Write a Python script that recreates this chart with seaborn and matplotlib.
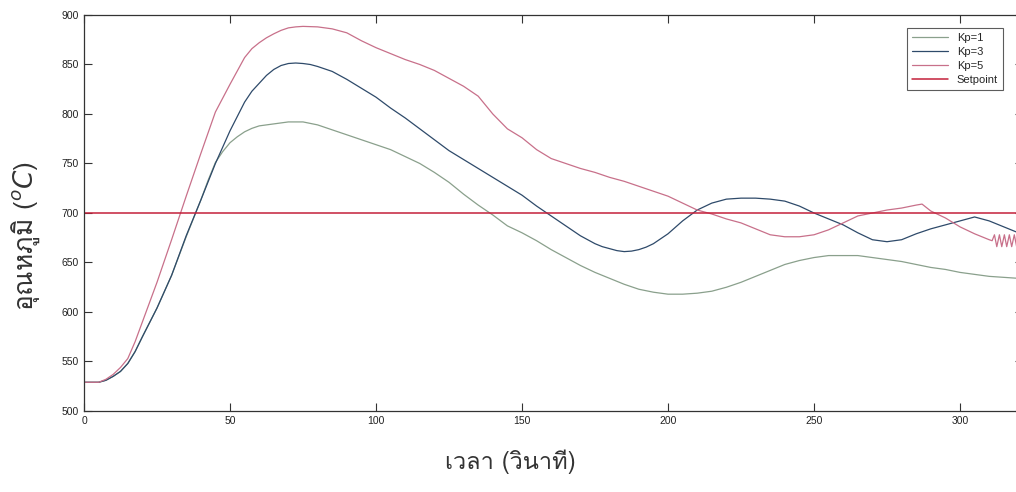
import numpy as np
import pandas as pd
import matplotlib
matplotlib.use("Agg")
import matplotlib.pyplot as plt
import seaborn as sns
from matplotlib import font_manager as fm
from matplotlib.ft2font import FT2Font
from matplotlib.lines import Line2D

# ---------------- data ----------------
# (time in s, temperature in °C)
kp1_points = [(0, 529), (5, 529), (7.5, 531), (10, 535), (12.5, 540), (15, 548),
              (17.5, 560), (20, 575), (25, 604), (30, 637), (35, 676), (40, 713),
              (42.5, 733), (45, 751), (47.5, 762), (50, 771), (52.5, 777),
              (55, 782), (57.5, 785.5), (60, 788), (65, 790), (70, 792),
              (75, 792), (80, 789), (85, 784), (90, 779), (95, 774), (100, 769),
              (105, 764), (110, 757), (115, 750), (120, 741), (125, 731),
              (130, 719), (135, 708), (140, 698), (145, 687), (150, 680),
              (155, 672), (160, 663), (165, 655), (170, 647), (175, 640),
              (180, 634), (185, 628), (190, 623), (195, 620), (200, 618),
              (205, 618), (210, 619), (215, 621), (220, 625), (225, 630),
              (230, 636), (235, 642), (240, 648), (245, 652), (250, 655),
              (255, 657), (260, 657), (265, 657), (270, 655), (275, 653),
              (280, 651), (285, 648), (290, 645), (295, 643), (300, 640),
              (305, 638), (310, 636), (315, 635), (320, 634)]

kp3_points = [(0, 529), (5, 529), (7.5, 531), (10, 535), (12.5, 540), (15, 548),
              (17.5, 560), (20, 575), (25, 604), (30, 637), (35, 677), (40, 713),
              (45, 750), (50, 783), (55, 812), (57.5, 823), (60, 831),
              (62.5, 839), (65, 845), (67.5, 849), (70, 851), (72.5, 851.5),
              (75, 851), (77.5, 850), (80, 848), (85, 843), (90, 835), (95, 826),
              (100, 817), (105, 806), (110, 796), (115, 785), (120, 774),
              (125, 763), (130, 754), (135, 745), (140, 736), (145, 727),
              (150, 718), (155, 707), (160, 697), (165, 687), (170, 677),
              (175, 669), (177.5, 666), (180, 664), (182.5, 662), (185, 661),
              (187.5, 661.5), (190, 663), (192.5, 665.5), (195, 669), (200, 679),
              (205, 692), (210, 703), (215, 710), (220, 714), (225, 715),
              (230, 715), (235, 714), (240, 712), (245, 707), (250, 700),
              (255, 694), (260, 688), (265, 680), (270, 673), (275, 671),
              (280, 673), (285, 679), (290, 684), (295, 688), (300, 692),
              (305, 696), (310, 692), (315, 686), (320, 680)]

kp5_points = [(0, 529), (5, 529), (7.5, 532), (10, 537), (12.5, 544), (15, 553),
              (17.5, 570), (20, 590), (25, 630), (30, 673), (35, 717), (40, 760),
              (45, 802), (50, 830), (55, 857), (57.5, 866), (60, 872),
              (62.5, 877), (65, 881), (67.5, 884.5), (70, 887), (72.5, 888),
              (75, 888.5), (80, 888), (85, 886), (90, 882), (95, 874), (100, 867),
              (105, 861), (110, 855), (115, 850), (120, 844), (125, 836),
              (130, 828), (135, 818), (140, 800), (145, 785), (150, 776),
              (155, 764), (160, 755), (165, 750), (170, 745), (175, 741),
              (180, 736), (185, 732), (190, 727), (195, 722), (200, 717),
              (205, 710), (210, 703), (215, 699), (220, 694), (225, 690),
              (230, 684), (235, 678), (240, 676), (245, 676), (250, 678),
              (255, 683), (260, 690), (265, 697), (270, 700), (275, 703),
              (280, 705), (285, 708), (287, 709), (290, 702), (295, 695),
              (300, 686), (305, 679), (310, 673), (311.0, 672), (311.8, 678),
              (312.6, 666), (313.5, 678), (314.3, 666), (315.2, 678),
              (316.0, 666), (316.9, 678), (317.7, 666), (318.6, 678),
              (319.4, 666), (320.2, 678), (321.0, 666)]

setpoint = 700
series_names = ["Kp=1", "Kp=3", "Kp=5"]
setpoint_name = "Setpoint"
x_ticks = [0, 50, 100, 150, 200, 250, 300]
y_ticks = [500, 550, 600, 650, 700, 750, 800, 850, 900]
x_label = "เวลา (วินาที)"
y_label = "อุณหภูมิ ($^{o}C$)"

# ---------------- fonts ----------------
def find_font(ch):
    seen = set()
    for f in fm.fontManager.ttflist:
        if f.name in seen:
            continue
        seen.add(f.name)
        try:
            if FT2Font(f.fname).get_char_index(ord(ch)):
                return f.name
        except Exception:
            pass
    return None

thai_font = find_font("อ")
sns.set_theme(style="ticks")
plt.rcParams["font.family"] = ["Liberation Sans", "DejaVu Sans"]
label_family = ([thai_font] if thai_font else []) + ["DejaVu Sans"]

# ---------------- frame ----------------
frames = []
for name, pts in zip(series_names, [kp1_points, kp3_points, kp5_points]):
    t, v = zip(*pts)
    frames.append(pd.DataFrame({"t": t, "T": v, "s": name}))
df = pd.concat(frames, ignore_index=True)

W, H = 1016, 492
fig = plt.figure(figsize=(W / 100, H / 100), dpi=100)
x_max = 321.5
px_per_unit = 2.92
ax = fig.add_axes([84 / W, (H - 411) / H, x_max * px_per_unit / W, 396 / H])

palette = {"Kp=1": "#8aa08c", "Kp=3": "#2e4a6a", "Kp=5": "#c8708a"}
sp_color = "#c4203a"
sns.lineplot(data=df, x="t", y="T", hue="s", palette=palette, sort=False,
             linewidth=0.9, ax=ax, legend=False)
ax.axhline(setpoint, color=sp_color, linewidth=1.1)

ax.set_xlim(0, x_max)
ax.set_ylim(500, 900)
ax.set_xticks(x_ticks)
ax.set_yticks(y_ticks)
ax.tick_params(direction="in", length=6, width=0.8, labelsize=7.5,
               top=True, right=True, colors="#333333", labelcolor="#222222")
for s in ax.spines.values():
    s.set_linewidth(0.9)
    s.set_color("#333333")
ax.set_xlabel("")
ax.set_ylabel("")

handles = [Line2D([], [], color=palette[n], lw=0.9) for n in series_names]
handles.append(Line2D([], [], color=sp_color, lw=1.1))
leg = ax.legend(handles, series_names + [setpoint_name], loc="upper right",
                bbox_to_anchor=((1003 - 84) / (x_max * px_per_unit), 1 - 13 / 396),
                fontsize=8, frameon=True, fancybox=False, edgecolor="#333333",
                borderpad=0.45, labelspacing=0.35, handlelength=3.2,
                handletextpad=0.8, borderaxespad=0)
leg.get_frame().set_linewidth(0.8)

fig.text(510 / W, 1 - 462 / H, x_label, ha="center", va="center",
         fontsize=17, family=label_family, color="#333333")
fig.text(26 / W, 1 - 236 / H, y_label, ha="center", va="center",
         rotation=90, fontsize=19, family=label_family, color="#333333")

fig.savefig("out.png", dpi=100)
